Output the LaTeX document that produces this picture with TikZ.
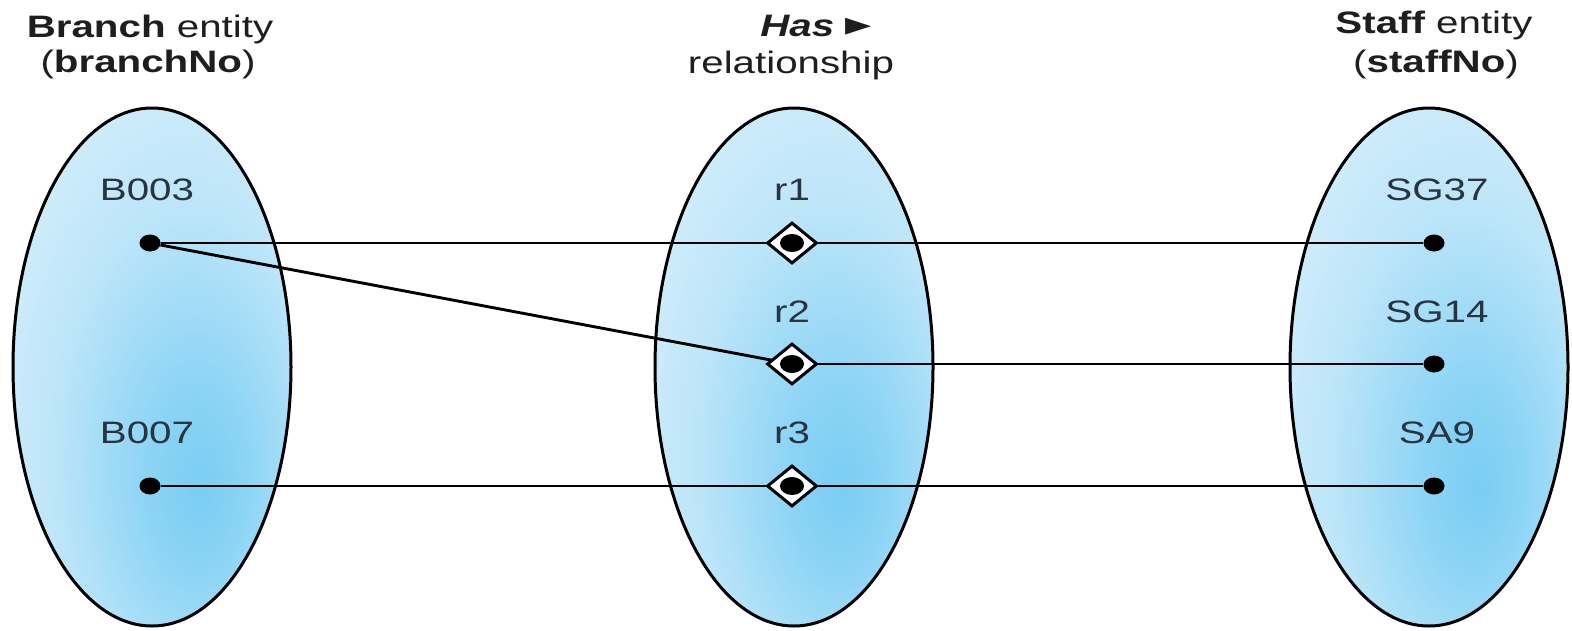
\documentclass[tikz,border=0pt]{standalone}
\usepackage{fontspec}
\setmainfont{Liberation Sans}[FakeStretch=1.3]
\newfontfamily\symfont{DejaVu Sans}
\usetikzlibrary{shapes.geometric}
\definecolor{bdeep}{RGB}{122,205,243}
\definecolor{bdeep2}{RGB}{140,212,245}
\definecolor{bmid}{RGB}{188,229,249}
\definecolor{blight}{RGB}{216,240,251}
\definecolor{bwhite}{RGB}{234,247,253}
\definecolor{labelc}{RGB}{40,52,64}
\definecolor{titlec}{RGB}{30,30,30}
\pgfdeclareradialshading{blueoff}{\pgfpoint{9bp}{-12bp}}{color(0bp)=(bdeep); color(9bp)=(bdeep2); color(24bp)=(bmid); color(40bp)=(blight); color(60bp)=(bwhite); color(90bp)=(bwhite)}
\begin{document}
\begin{tikzpicture}[x=1pt,y=-1pt,
  setnode/.style={ellipse, draw=black, line width=3pt, shading=blueoff, minimum width=278pt, minimum height=518pt, inner sep=0pt},
  lbl/.style={font=\fontsize{31}{36}\selectfont, text=labelc, anchor=base, inner sep=0pt},
  ttl/.style={font=\fontsize{31}{36}\selectfont, text=titlec, anchor=base, inner sep=0pt},
  dotnode/.style={ellipse, fill=black, minimum width=21pt, minimum height=17pt, inner sep=0pt},
  relbox/.style={diamond, draw=black, line width=3pt, fill=white, minimum width=50pt, minimum height=41pt, inner sep=0pt},
  reldot/.style={ellipse, fill=black, minimum width=24pt, minimum height=18pt, inner sep=0pt},
  conn/.style={draw=black, line width=2.9pt}]
\useasboundingbox (0,0) rectangle (1572,630);
% sets
\node[setnode] (branchset) at (152,367) {};
\node[setnode] (relset) at (794,367) {};
\node[setnode] (staffset) at (1429,367) {};
% titles
\node[ttl] (t1a) at (150,37) {\bfseries Branch\mdseries\ entity};
\node[ttl] (t1b) at (148,72) {(\bfseries branchNo\mdseries)};
\node[ttl] (t2a) at (816,36) {{\bfseries\itshape Has} {\symfont\fontsize{34}{36}\selectfont\raisebox{1pt}{►}}};
\node[ttl] (t2b) at (791,73) {relationship};
\node[ttl] (t3a) at (1434,33) {\bfseries Staff\mdseries\ entity};
\node[ttl] (t3b) at (1436,72) {(\bfseries staffNo\mdseries)};
% labels
\node[lbl] (lb3) at (147,200) {B003};
\node[lbl] (lb7) at (147,443) {B007};
\node[lbl] (lr1) at (792,200) {r1};
\node[lbl] (lr2) at (792,322) {r2};
\node[lbl] (lr3) at (792,443) {r3};
\node[lbl] (ls37) at (1437,200) {SG37};
\node[lbl] (ls14) at (1437,322) {SG14};
\node[lbl] (sa9) at (1437,443) {SA9};
% entity points
\node[dotnode] (b3) at (150,243) {};
\node[dotnode] (b7) at (150,486) {};
\node[dotnode] (s37) at (1434,243) {};
\node[dotnode] (s14) at (1434,364) {};
\node[dotnode] (sa) at (1434,486) {};
\coordinate (r1) at (792,243);
\coordinate (r2) at (792,364);
\coordinate (r3) at (792,486);
% connectors
\draw[conn] (b3) -- (s37);
\draw[conn] (b3) -- (r2);
\draw[conn] (r2) -- (s14);
\draw[conn] (b7) -- (sa);
% relationship occurrences
\node[relbox] (r1box) at (r1) {};
\node[relbox] (r2box) at (r2) {};
\node[relbox] (r3box) at (r3) {};
\node[reldot] (r1dot) at (r1) {};
\node[reldot] (r2dot) at (r2) {};
\node[reldot] (r3dot) at (r3) {};
\end{tikzpicture}
\end{document}
